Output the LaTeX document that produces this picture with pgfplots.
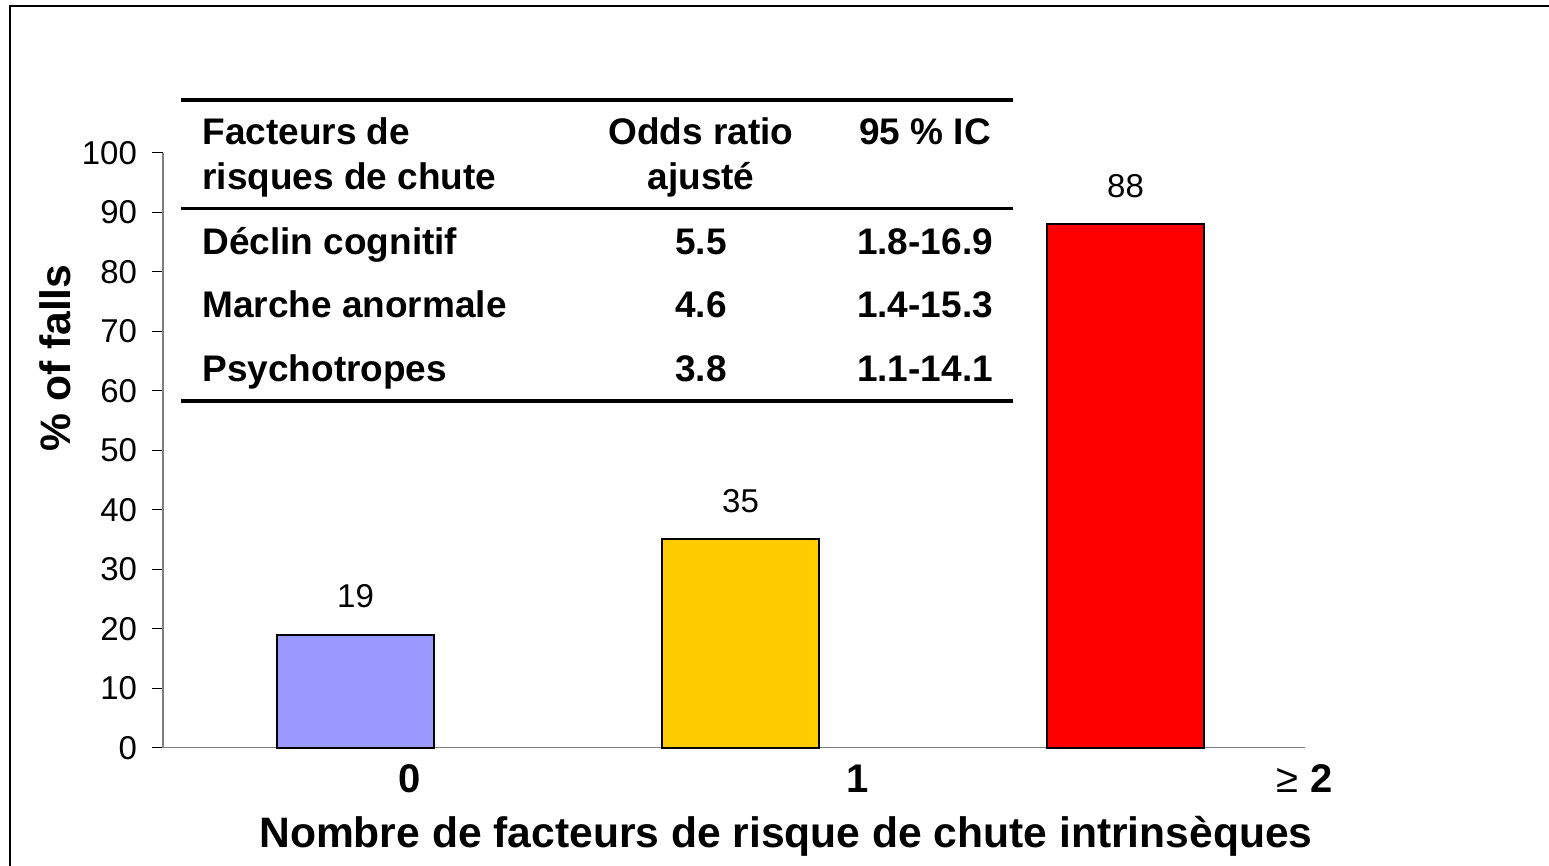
\documentclass[border=0pt]{standalone}
\usepackage{fontspec}
\setmainfont{Liberation Sans}
\usepackage{pgfplots}
\pgfplotsset{compat=1.18}
\definecolor{cA}{HTML}{9999FF}
\definecolor{cB}{HTML}{FFCC00}
\definecolor{cC}{HTML}{FF0000}
\definecolor{axgray}{HTML}{808080}
\newcommand{\tbl}{\fontsize{18.5bp}{22bp}\selectfont\bfseries}
\begin{document}
\begin{tikzpicture}
\useasboundingbox (0,0) rectangle (774.5bp,433bp);
\draw[line width=1bp] (5bp,-1bp) -- (5bp,430bp) -- (776bp,430bp);
\begin{axis}[
  at={(81.5bp,59.15bp)}, anchor=south west,
  scale only axis, width=571bp, height=297.5bp,
  xmin=-0.5, xmax=2.466, ymin=0, ymax=100,
  axis x line*=bottom, axis y line*=left,
  axis line style={draw=axgray, line width=0.8bp, -},
  ytick={0,10,...,100},
  tick align=outside,
  major tick length=5.5bp,
  ytick style={draw=black, line width=0.6bp},
  xtick={0.1416,1.305,2.465},
  xticklabels={0,1,{{\mdseries ≥}~2}},
  xtick style={draw=none},
  xticklabel style={font=\fontsize{20bp}{24bp}\selectfont\bfseries, anchor=base, yshift=-17bp},
  yticklabel style={font=\fontsize{16.5bp}{20bp}\selectfont, xshift=-4bp},
  /pgf/number format/assume math mode=true,
  ybar, bar width=0.408,
  nodes near coords,
  nodes near coords style={font=\fontsize{16.5bp}{20bp}\selectfont, yshift=9.5bp, text=black},
  clip=false,
]
\addplot[fill=cA, draw=black, line width=1bp, bar shift=0pt] coordinates {(0,19)};
\addplot[fill=cB, draw=black, line width=1bp, bar shift=0pt] coordinates {(1,35)};
\addplot[fill=cC, draw=black, line width=1bp, bar shift=0pt] coordinates {(2,88)};
\end{axis}
% table
\draw[line width=1.8bp] (90.5bp,383bp) -- (506.5bp,383bp);
\draw[line width=1.5bp] (90.5bp,328.5bp) -- (506.5bp,328.5bp);
\draw[line width=1.8bp] (90.5bp,232.5bp) -- (506.5bp,232.5bp);
\begin{scope}[every node/.style={inner sep=0pt, font=\tbl}]
\node[anchor=base west] at (101bp,360.5bp) {Facteurs de};
\node[anchor=base west] at (101bp,338bp) {risques de chute};
\node[anchor=base west] at (101bp,305.5bp) {Déclin cognitif};
\node[anchor=base west] at (101bp,274bp) {Marche anormale};
\node[anchor=base west] at (101bp,242bp) {Psychotropes};
\node[anchor=base] at (350.5bp,360.5bp) {Odds ratio};
\node[anchor=base] at (350.5bp,338bp) {ajusté};
\node[anchor=base] at (350.5bp,305.5bp) {5.5};
\node[anchor=base] at (350.5bp,274bp) {4.6};
\node[anchor=base] at (350.5bp,242bp) {3.8};
\node[anchor=base] at (462.5bp,360.5bp) {95 \% IC};
\node[anchor=base] at (462.5bp,305.5bp) {1.8-16.9};
\node[anchor=base] at (462.5bp,274bp) {1.4-15.3};
\node[anchor=base] at (462.5bp,242bp) {1.1-14.1};
\end{scope}
\node[anchor=base, inner sep=0pt, font=\fontsize{21.3bp}{25bp}\selectfont\bfseries] at (393bp,9.5bp) {Nombre de facteurs de risque de chute intrinsèques};
\node[anchor=base, rotate=90, inner sep=0pt, font=\fontsize{21.3bp}{25bp}\selectfont\bfseries] at (35bp,254bp) {\% of falls};
\end{tikzpicture}
\end{document}
